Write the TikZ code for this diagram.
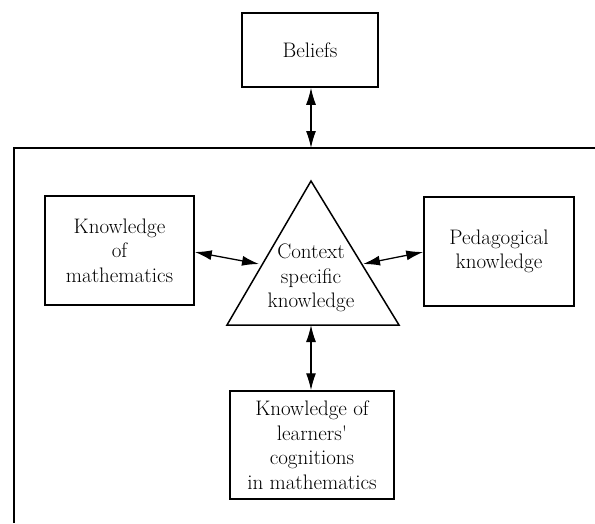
\documentclass[tikz,border=0pt]{standalone}
\usetikzlibrary{arrows.meta}
\begin{document}
\begin{tikzpicture}[x=1pt,y=-1pt,
  line width=1.5pt,
  box/.style={draw, align=center, inner sep=0pt,
    font=\fontsize{21}{24.5}\selectfont},
  txt/.style={align=center, inner sep=0pt,
    font=\fontsize{21}{24.5}\selectfont},
  link/.style={{Latex[length=17pt,width=10pt]}-{Latex[length=17pt,width=10pt]}, line width=1.3pt}]
\useasboundingbox (0,0) rectangle (595,523);

% outer frame (top and left sides)
\draw (595,148) -- (14,148) -- (14,523);

% boxes
\node[box, minimum width=136pt, minimum height=74pt] (beliefs) at (310,50) {Beliefs};
\node[box, minimum width=149pt, minimum height=109pt] (math) at (119.5,250.5) {Knowledge\\of\\mathematics};
\node[box, minimum width=150pt, minimum height=109pt] (ped) at (499,251.5) {Pedagogical\\knowledge};
\node[box, minimum width=164pt, minimum height=108pt] (learn) at (312,445) {Knowledge of\\learners\textquotesingle\\cognitions\\in mathematics};

% central triangle
\coordinate (apex) at (311,181);
\coordinate (bl) at (227,325);
\coordinate (br) at (399,325);
\draw[line join=miter] (apex) -- (bl) -- (br) -- cycle;
\node[txt] (ctx) at (311,278) {Context\\specific\\knowledge};

% connection points on the triangle and the frame
\coordinate (tl) at (259,264);
\coordinate (tr) at (363,264);
\coordinate (tb) at (311,325);
\coordinate (ftop) at (311,148);

% connectors
\draw[link] (beliefs.south -| ftop) -- (ftop);
\draw[link] (math.east |- 0,252) -- (tl);
\draw[link] (tr) -- (ped.west |- 0,252);
\draw[link] (tb) -- (learn.north -| tb);
\end{tikzpicture}
\end{document}
